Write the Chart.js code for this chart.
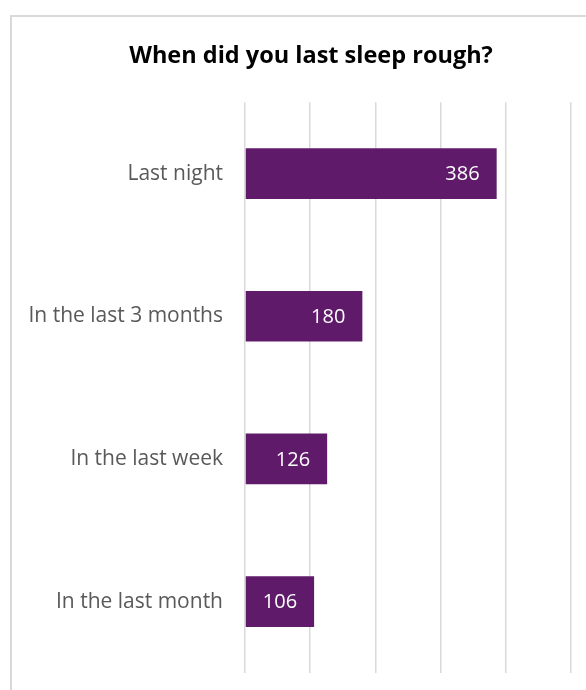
<!DOCTYPE html>
<html>
<head>
<meta charset="utf-8">
<script src="https://cdn.jsdelivr.net/npm/chart.js@4.4.1/dist/chart.umd.min.js"></script>
<style>
    body { margin: 0; background: #fff; }
    #frame {
        position: absolute; left: 10px; top: 15px;
        width: 600px; height: 700px;
        border: 2px solid #d9d9d9; box-sizing: border-box;
    }
    #wrap { position: absolute; left: 0; top: 0; width: 586px; height: 690px; }
</style>
</head>
<body>
<div id="frame"></div>
<div id="wrap"><canvas id="chart"></canvas></div>
<script>
// chart data
let categories = ["Last night", "In the last 3 months", "In the last week", "In the last month"];
let counts = [386, 180, 126, 106];
let xTicks = [0, 100, 200, 300, 400, 500];

let fontFamily = "'Open Sans', 'Noto Sans', sans-serif";

// white value labels inside the end of each bar
let valueLabels = {
    id: "valueLabels",
    afterDatasetsDraw(chart) {
        let ctx = chart.ctx;
        let meta = chart.getDatasetMeta(0);
        ctx.save();
        ctx.fillStyle = "#ffffff";
        ctx.font = "20px " + fontFamily;
        ctx.textAlign = "right";
        ctx.textBaseline = "middle";
        meta.data.forEach((bar, i) => {
            ctx.fillText(counts[i], bar.x - 17, bar.y + 1);
        });
        ctx.restore();
    }
};

// let the category labels run past the left padding (otherwise they get clipped)
let widenLabels = {
    id: "widenLabels",
    afterLayout(chart) {
        chart.scales.y.left = 0;
    }
};

let ctx = document.getElementById("chart").getContext("2d");
let chart = new Chart(ctx, {
    type: "bar",
    data: {
        labels: categories,
        datasets: [{
            data: counts,
            backgroundColor: "#5f1b6a",
            categoryPercentage: 1,
            barPercentage: 0.355
        }]
    },
    options: {
        indexAxis: "y",
        responsive: true,
        maintainAspectRatio: false,
        animation: false,
        // left padding also centres the title over the bordered frame
        layout: { padding: { left: 51, right: 15, top: 0, bottom: 17 } },
        plugins: {
            legend: { display: false },
            tooltip: { enabled: false },
            title: {
                display: true,
                text: "When did you last sleep rough?",
                color: "#000000",
                font: { family: fontFamily, size: 23.5, weight: "bold" },
                padding: { top: 42, bottom: 32 }
            }
        },
        scales: {
            x: {
                min: 0,
                max: 500,
                afterBuildTicks: axis => { axis.ticks = xTicks.map(v => ({ value: v })); },
                ticks: { display: false },
                grid: { color: "#d9d9d9", lineWidth: 1.5, drawTicks: false },
                border: { display: false }
            },
            y: {
                afterFit: axis => {
                    axis.width = 194;
                    axis.paddingTop = 0;
                    axis.paddingBottom = 0;
                },
                ticks: {
                    color: "#595959",
                    padding: 22,
                    font: { family: fontFamily, size: 21 }
                },
                grid: { display: false, drawTicks: false },
                border: { display: false }
            }
        }
    },
    plugins: [valueLabels, widenLabels]
});
</script>
</body>
</html>
